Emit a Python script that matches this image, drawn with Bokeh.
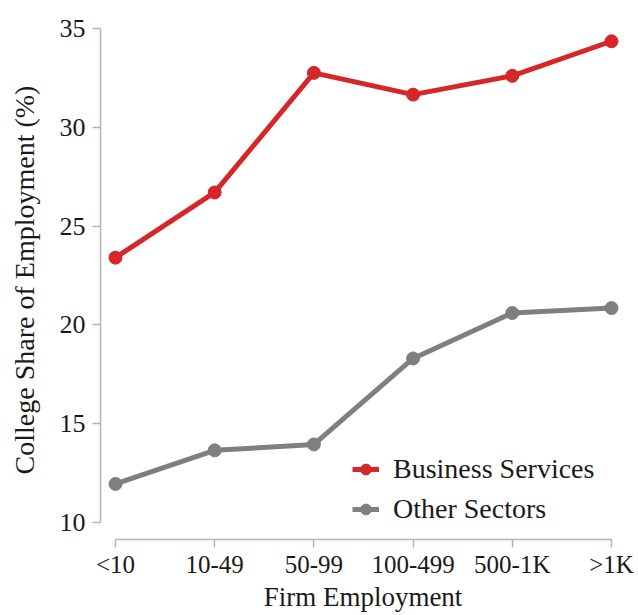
from bokeh.plotting import figure
from bokeh.models import Range1d, FixedTicker, Legend, LegendItem
from bokeh.embed import file_html
from bokeh.resources import INLINE

categories = ["<10", "10-49", "50-99", "100-499", "500-1K", ">1K"]
business = [23.4, 26.7, 32.75, 31.65, 32.6, 34.35]
other = [11.95, 13.65, 13.95, 18.3, 20.6, 20.85]
y_ticks = [10, 15, 20, 25, 30, 35]

FONT = "Liberation Serif"
RED = "#d62728"
GRAY = "#7f7f7f"
AX = "#b3b3b3"
TXT = "#1a1a1a"

x = list(range(len(categories)))

p = figure(width=638, height=615, output_backend="svg", toolbar_location=None,
           x_range=Range1d(-0.151, 5.141), y_range=Range1d(9.14, 35.4),
           frame_width=525, frame_height=519,
           min_border_left=100, min_border_top=20, min_border_right=13, min_border_bottom=76)
p.outline_line_color = None
p.grid.visible = False

r1 = p.line(x, business, line_color=RED, line_width=5)
s1 = p.scatter(x, business, marker="circle", size=13, fill_color=RED, line_color=RED)
r2 = p.line(x, other, line_color=GRAY, line_width=5)
s2 = p.scatter(x, other, marker="circle", size=13, fill_color=GRAY, line_color=GRAY)

for ax in (p.xaxis[0], p.yaxis[0]):
    ax.axis_line_color = AX
    ax.axis_line_width = 1.5
    ax.major_tick_line_color = AX
    ax.major_tick_line_width = 1.5
    ax.major_tick_out = 8
    ax.major_tick_in = 0
    ax.minor_tick_line_color = None
    ax.major_label_text_font = FONT
    ax.major_label_text_font_size = "26px"
    ax.major_label_text_color = TXT
    ax.axis_label_text_font = FONT
    ax.axis_label_text_font_size = "28px"
    ax.axis_label_text_font_style = "normal"
    ax.axis_label_text_color = TXT

p.xaxis.ticker = FixedTicker(ticks=x)
p.xaxis.major_label_overrides = {i: c for i, c in enumerate(categories)}
p.xaxis.bounds = (0, len(categories) - 1)
p.xaxis.axis_label = "Firm Employment"
p.xaxis.major_label_text_font_size = "25px"
p.xaxis.axis_label_text_font_size = "27px"
p.xaxis.major_label_standoff = 3
p.xaxis.axis_label_standoff = 1

p.yaxis.ticker = FixedTicker(ticks=y_ticks)
p.yaxis.bounds = (y_ticks[0], y_ticks[-1])
p.yaxis.axis_label = "College Share of Employment (%)"
p.yaxis.major_label_standoff = 7
p.yaxis.axis_label_standoff = 17

legend = Legend(items=[LegendItem(label="Business Services", renderers=[r1, s1]),
                       LegendItem(label="Other Sectors", renderers=[r2, s2])],
                location=(252, 14), padding=0, margin=0, spacing=8,
                glyph_width=27, glyph_height=30, label_height=30, label_standoff=14,
                border_line_color=None, background_fill_alpha=0,
                label_text_font=FONT, label_text_font_size="28px", label_text_color=TXT)
p.add_layout(legend)

open("out.html", "w").write(file_html(p, INLINE))
